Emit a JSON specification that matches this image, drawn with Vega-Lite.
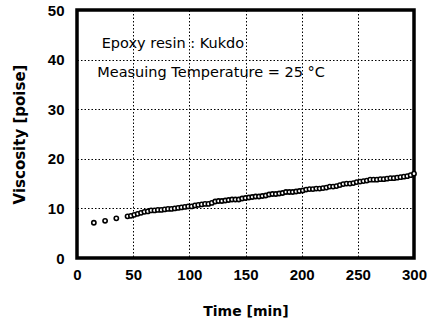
{
  "$schema": "https://vega.github.io/schema/vega-lite/v6.json",
  "autosize": "none",
  "width": 337,
  "height": 248,
  "padding": {"left": 77, "top": 10, "right": 19, "bottom": 64},
  "background": "white",
  "config": {
    "view": {"stroke": "black", "strokeWidth": 3.5},
    "font": "Liberation Sans"
  },
  "layer": [
    {
      "data": {"values": [
        {"t": 15, "v": 7.1}, {"t": 25, "v": 7.5}, {"t": 35, "v": 8.0},
        {"t": 45, "v": 8.4}, {"t": 48, "v": 8.5}, {"t": 51, "v": 8.7}, {"t": 54, "v": 8.9},
        {"t": 57, "v": 9.1}, {"t": 60, "v": 9.3}, {"t": 63, "v": 9.4}, {"t": 66, "v": 9.6},
        {"t": 69, "v": 9.6}, {"t": 72, "v": 9.7}, {"t": 75, "v": 9.7}, {"t": 78, "v": 9.8},
        {"t": 81, "v": 9.9}, {"t": 84, "v": 9.9}, {"t": 87, "v": 10.0}, {"t": 90, "v": 10.1},
        {"t": 93, "v": 10.2}, {"t": 96, "v": 10.3}, {"t": 99, "v": 10.4}, {"t": 102, "v": 10.4},
        {"t": 105, "v": 10.6}, {"t": 108, "v": 10.7}, {"t": 111, "v": 10.8}, {"t": 114, "v": 10.9},
        {"t": 117, "v": 10.9}, {"t": 120, "v": 11.1}, {"t": 123, "v": 11.4}, {"t": 126, "v": 11.5},
        {"t": 129, "v": 11.5}, {"t": 132, "v": 11.6}, {"t": 135, "v": 11.7}, {"t": 138, "v": 11.8},
        {"t": 141, "v": 11.8}, {"t": 144, "v": 11.8}, {"t": 147, "v": 12.0}, {"t": 150, "v": 12.1},
        {"t": 153, "v": 12.2}, {"t": 156, "v": 12.3}, {"t": 159, "v": 12.4}, {"t": 162, "v": 12.4},
        {"t": 165, "v": 12.5}, {"t": 168, "v": 12.6}, {"t": 171, "v": 12.8}, {"t": 174, "v": 12.9},
        {"t": 177, "v": 12.9}, {"t": 180, "v": 13.0}, {"t": 183, "v": 13.1}, {"t": 186, "v": 13.3},
        {"t": 189, "v": 13.3}, {"t": 192, "v": 13.3}, {"t": 195, "v": 13.4}, {"t": 198, "v": 13.5},
        {"t": 201, "v": 13.6}, {"t": 204, "v": 13.8}, {"t": 207, "v": 13.9}, {"t": 210, "v": 13.9},
        {"t": 213, "v": 14.0}, {"t": 216, "v": 14.0}, {"t": 219, "v": 14.1}, {"t": 222, "v": 14.2},
        {"t": 225, "v": 14.4}, {"t": 228, "v": 14.4}, {"t": 231, "v": 14.5}, {"t": 234, "v": 14.7},
        {"t": 237, "v": 14.9}, {"t": 240, "v": 15.0}, {"t": 243, "v": 15.0}, {"t": 246, "v": 15.1},
        {"t": 249, "v": 15.3}, {"t": 252, "v": 15.4}, {"t": 255, "v": 15.5}, {"t": 258, "v": 15.6},
        {"t": 261, "v": 15.8}, {"t": 264, "v": 15.8}, {"t": 267, "v": 15.8}, {"t": 270, "v": 15.9},
        {"t": 273, "v": 15.9}, {"t": 276, "v": 16.0}, {"t": 279, "v": 16.1}, {"t": 282, "v": 16.1},
        {"t": 285, "v": 16.2}, {"t": 288, "v": 16.3}, {"t": 291, "v": 16.4}, {"t": 294, "v": 16.5},
        {"t": 297, "v": 16.7}, {"t": 300, "v": 17.0}
      ]},
      "mark": {"type": "point", "shape": "circle", "filled": false, "stroke": "black", "strokeWidth": 1.6, "size": 18, "fill": "white", "fillOpacity": 1, "opacity": 1},
      "encoding": {
        "x": {"field": "t", "type": "quantitative",
          "scale": {"domain": [0, 300], "nice": false},
          "axis": {"values": [0, 50, 100, 150, 200, 250, 300], "title": "Time [min]",
            "titleFont": "DejaVu Sans", "titleFontSize": 14, "titleFontWeight": "bold", "titlePadding": 22,
            "labelFont": "Liberation Sans", "labelFontSize": 15, "labelFontWeight": "bold", "labelColor": "black",
            "labelPadding": 9, "ticks": false, "domain": false, "labelFlush": false,
            "grid": true, "gridColor": "black", "gridDash": [1.5, 2], "gridWidth": 1, "gridOpacity": 1, "titleColor": "black"}},
        "y": {"field": "v", "type": "quantitative",
          "scale": {"domain": [0, 50], "nice": false},
          "axis": {"values": [0, 10, 20, 30, 40, 50], "title": "Viscosity [poise]",
            "titleFont": "DejaVu Sans", "titleFontSize": 15, "titleFontWeight": "bold", "titlePadding": 20,
            "labelFont": "Liberation Sans", "labelFontSize": 15, "labelFontWeight": "bold", "labelColor": "black",
            "labelPadding": 13, "ticks": false, "domain": false,
            "grid": true, "gridColor": "black", "gridDash": [1.5, 2], "gridWidth": 1, "gridOpacity": 1, "titleColor": "black"}}
      }
    },
    {
      "data": {"values": [
        {"t": 22, "v": 43.2, "label": "Epoxy resin : Kukdo"},
        {"t": 18, "v": 37.3, "label": "Measuing Temperature = 25 °C"}
      ]},
      "mark": {"type": "text", "align": "left", "baseline": "middle", "font": "DejaVu Sans", "fontSize": 14.5, "color": "black"},
      "encoding": {
        "x": {"field": "t", "type": "quantitative"},
        "y": {"field": "v", "type": "quantitative"},
        "text": {"field": "label"}
      }
    }
  ]
}
